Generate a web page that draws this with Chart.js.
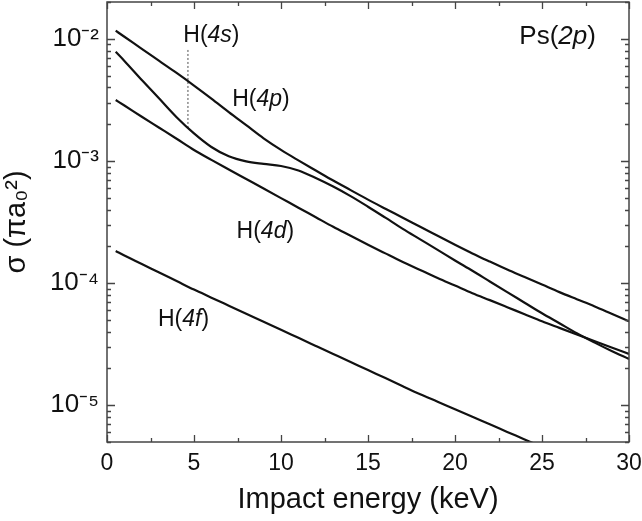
<!DOCTYPE html>
<html>
<head>
<meta charset="utf-8">
<script src="https://cdn.jsdelivr.net/npm/chart.js@4/dist/chart.umd.min.js"></script>
<style>
  html, body { margin: 0; padding: 0; background: #fff; }
  #wrap { width: 642px; height: 521px; }
</style>
</head>
<body>
<div id="wrap"><canvas id="c" width="642" height="521"></canvas></div>
<script>
// Ps(2p) + H -> Ps + H(4l) cross sections
const ENERGY = [0.5, 1, 2, 3, 4, 5, 6, 7, 8, 9, 10, 11, 12, 13, 14, 15,
  16, 17, 18, 19, 20, 21, 22, 23, 24, 25, 26, 27, 28, 29, 30];

const H4s = [7.82e-3, 6.59e-3, 4.60e-3, 3.24e-3, 2.28e-3, 1.68e-3, 1.30e-3, 1.09e-3, 9.91e-4, 9.45e-4,
  9.09e-4, 8.35e-4, 7.25e-4, 6.17e-4, 5.15e-4, 4.22e-4, 3.43e-4, 2.78e-4, 2.28e-4, 1.87e-4,
  1.53e-4, 1.26e-4, 1.03e-4, 8.43e-5, 6.91e-5, 5.66e-5, 4.69e-5, 3.88e-5, 3.27e-5, 2.78e-5, 2.39e-5];

const H4p = [1.164e-2, 1.039e-2, 8.27e-3, 6.59e-3, 5.25e-3, 4.14e-3, 3.24e-3, 2.51e-3, 1.96e-3, 1.53e-3,
  1.23e-3, 1.01e-3, 8.35e-4, 6.91e-4, 5.77e-4, 4.82e-4, 4.06e-4, 3.43e-4, 2.89e-4, 2.44e-4,
  2.06e-4, 1.75e-4, 1.50e-4, 1.29e-4, 1.12e-4, 9.72e-5, 8.43e-5, 7.38e-5, 6.47e-5, 5.61e-5, 4.86e-5];

const H4d = [3.15e-3, 2.84e-3, 2.30e-3, 1.87e-3, 1.52e-3, 1.23e-3, 1.02e-3, 8.51e-4, 7.11e-4, 5.94e-4,
  4.96e-4, 4.14e-4, 3.46e-4, 2.89e-4, 2.44e-4, 2.06e-4, 1.75e-4, 1.49e-4, 1.28e-4, 1.10e-4,
  9.54e-5, 8.27e-5, 7.25e-5, 6.35e-5, 5.56e-5, 4.87e-5, 4.30e-5, 3.80e-5, 3.36e-5, 2.97e-5, 2.63e-5];

// runs off the bottom of the frame near 24.5 keV
const H4f = [1.834e-4, 1.684e-4, 1.434e-4, 1.220e-4, 1.039e-4, 8.84e-5, 7.60e-5, 6.53e-5, 5.61e-5, 4.82e-5,
  4.14e-5, 3.56e-5, 3.06e-5, 2.63e-5, 2.26e-5, 1.94e-5, 1.67e-5, 1.43e-5, 1.23e-5, 1.07e-5,
  9.27e-6, 8.04e-6, 6.98e-6, 6.05e-6, 5.25e-6, 4.55e-6];

// dotted pointer from the H(4s) label down to its curve
const MARK_X = [4.65, 4.65];
const MARK_Y = [8.1e-3, 1.85e-3];

const X_TICKS = [0, 2.5, 5, 7.5, 10, 12.5, 15, 17.5, 20, 22.5, 25, 27.5, 30];
const Y_DECADES = [-6, -5, -4, -3, -2];
const Y_MIN = 5e-6, Y_MAX = 2e-2;

// curve labels: [segments, x, y, size] ; segments are [text, italic]
const LABELS = [
  [[["H(", 0], ["4s", 1], [")", 0]], 6.0, 1.06e-2, 23],
  [[["H(", 0], ["4p", 1], [")", 0]], 8.85, 3.15e-3, 23],
  [[["H(", 0], ["4d", 1], [")", 0]], 9.1, 2.63e-4, 23],
  [[["H(", 0], ["4f", 1], [")", 0]], 4.4, 5.06e-5, 23],
  [[["Ps(", 0], ["2p", 1], [")", 0]], 25.9, 1.04e-2, 26],
];

const FONT = "'Liberation Sans', Arial, Helvetica, sans-serif";
const SUP = { "-": "\u207B", "0": "\u2070", "1": "\u00B9", "2": "\u00B2", "3": "\u00B3", "4": "\u2074",
  "5": "\u2075", "6": "\u2076", "7": "\u2077", "8": "\u2078", "9": "\u2079" };

const yTicks = [];
Y_DECADES.forEach((e) => {
  for (let m = 1; m <= 9; m++) {
    const v = +(m * Math.pow(10, e)).toPrecision(3);
    if (v >= Y_MIN - 1e-12 && v <= Y_MAX + 1e-12) yTicks.push(v);
  }
});

const isDecade = (v) => Math.abs(Math.log10(v) - Math.round(Math.log10(v))) < 1e-6;
const pts = (ys) => ys.map((y, i) => ({ x: ENERGY[i], y }));

const curve = (label, ys) => ({
  label, data: pts(ys), borderColor: "#111", borderWidth: 2.2,
  pointRadius: 0, cubicInterpolationMode: "monotone", fill: false,
});

// the frame is placed by hand, so drop the label overhang padding
const noPad = (s) => { s.paddingTop = 0; s.paddingBottom = 0; s.paddingLeft = 0; s.paddingRight = 0; };

// inward tick marks + frame, Origin style
const frame = {
  id: "frame",
  afterDatasetsDraw(chart) {
    const { ctx, chartArea: a, scales } = chart;
    ctx.save();
    ctx.strokeStyle = "#444";
    ctx.lineWidth = 1.3;
    ctx.beginPath();
    scales.x.ticks.forEach((t) => {
      const px = Math.round(scales.x.getPixelForValue(t.value)) + 0.5;
      const len = t.value % 5 === 0 ? 7 : 4;
      ctx.moveTo(px, a.bottom); ctx.lineTo(px, a.bottom - len);
      ctx.moveTo(px, a.top); ctx.lineTo(px, a.top + len);
    });
    scales.y.ticks.forEach((t) => {
      const py = Math.round(scales.y.getPixelForValue(t.value)) + 0.5;
      const len = isDecade(t.value) ? 8 : 4;
      ctx.moveTo(a.left, py); ctx.lineTo(a.left + len, py);
      ctx.moveTo(a.right, py); ctx.lineTo(a.right - len, py);
    });
    ctx.stroke();
    ctx.lineWidth = 1.5;
    ctx.strokeRect(a.left, a.top, a.right - a.left, a.bottom - a.top);
    ctx.restore();
  },
  afterDraw(chart) {
    const { ctx, scales } = chart;
    ctx.save();
    ctx.fillStyle = "#111";
    ctx.textBaseline = "middle";
    LABELS.forEach(([segs, xv, yv, size]) => {
      const fonts = segs.map(([, it]) => `${it ? "italic " : ""}${size}px ${FONT}`);
      let w = 0;
      segs.forEach(([s], i) => { ctx.font = fonts[i]; w += ctx.measureText(s).width; });
      let x = scales.x.getPixelForValue(xv) - w / 2;
      const y = scales.y.getPixelForValue(yv);
      segs.forEach(([s], i) => {
        ctx.font = fonts[i];
        ctx.fillText(s, x, y);
        x += ctx.measureText(s).width;
      });
    });
    ctx.restore();
  },
};

new Chart(document.getElementById("c"), {
  type: "line",
  data: {
    datasets: [
      curve("H(4p)", H4p),
      curve("H(4s)", H4s),
      curve("H(4d)", H4d),
      curve("H(4f)", H4f),
      {
        label: "H(4s) marker",
        data: MARK_X.map((x, i) => ({ x, y: MARK_Y[i] })),
        borderColor: "#8a8a8a", borderWidth: 1.5, borderDash: [2, 2],
        pointRadius: 0, fill: false,
      },
    ],
  },
  options: {
    responsive: false,
    animation: false,
    devicePixelRatio: 1,
    layout: { padding: { top: 2, right: 13, left: 0, bottom: 0 } },
    plugins: { legend: { display: false }, tooltip: { enabled: false } },
    scales: {
      x: {
        type: "linear", min: 0, max: 30,
        afterBuildTicks: (s) => { s.ticks = X_TICKS.map((v) => ({ value: v })); },
        afterFit: (s) => { s.height = 79; noPad(s); },
        grid: { display: false, drawTicks: false },
        border: { display: false },
        ticks: {
          autoSkip: false, maxRotation: 0, padding: 8, color: "#111",
          font: { family: FONT, size: 23 },
          callback: (v) => (v % 5 === 0 ? String(v) : ""),
        },
        title: {
          display: true, text: "Impact energy (keV)", color: "#111",
          font: { family: FONT, size: 29 }, padding: { top: 2, bottom: 4 },
        },
      },
      y: {
        type: "logarithmic", min: Y_MIN, max: Y_MAX,
        afterBuildTicks: (s) => { s.ticks = yTicks.map((v) => ({ value: v })); },
        afterFit: (s) => { s.width = 107; noPad(s); },
        grid: { display: false, drawTicks: false },
        border: { display: false },
        ticks: {
          autoSkip: false, padding: 8, color: "#111",
          font: { family: FONT, size: 26 },
          callback: (v) => {
            if (!isDecade(v)) return "";
            const e = String(Math.round(Math.log10(v)));
            return "10" + e.split("").map((c) => SUP[c]).join("");
          },
        },
        title: {
          display: true, text: "\u03C3 (\u03C0a\u2080\u00B2)", color: "#111",
          font: { family: FONT, size: 29 }, padding: { top: 0, bottom: 2 },
        },
      },
    },
  },
  plugins: [frame],
});
</script>
</body>
</html>
